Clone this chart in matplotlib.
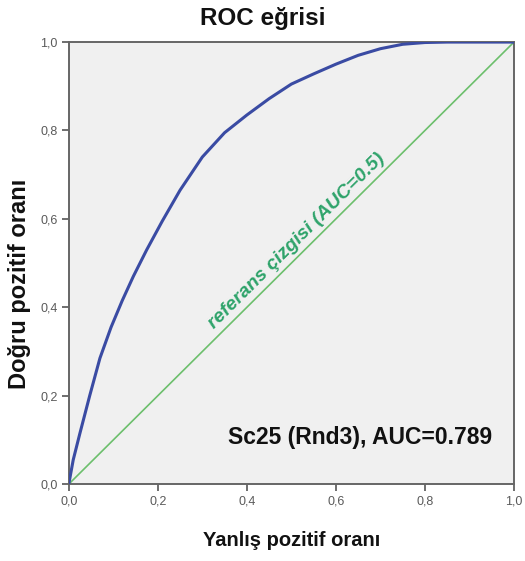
import matplotlib

matplotlib.use("Agg")
import matplotlib.pyplot as plt

# ROC curve
fpr = [0.0, 0.01, 0.025, 0.047, 0.07, 0.095, 0.12, 0.145, 0.175, 0.21,
       0.25, 0.3, 0.35, 0.4, 0.45, 0.5, 0.55, 0.6, 0.65, 0.7, 0.75, 0.8,
       0.85, 1.0]
tpr = [0.0, 0.055, 0.115, 0.2, 0.285, 0.355, 0.415, 0.47, 0.53, 0.595,
       0.665, 0.74, 0.795, 0.835, 0.872, 0.905, 0.928, 0.95, 0.97, 0.985,
       0.995, 0.999, 1.0, 1.0]
ref_x = [0.0, 1.0]
ref_y = [0.0, 1.0]
ticks = [0.0, 0.2, 0.4, 0.6, 0.8, 1.0]
tick_labels = ["0,0", "0,2", "0,4", "0,6", "0,8", "1,0"]

title = "ROC eğrisi"
x_label = "Yanlış pozitif oranı"
y_label = "Doğru pozitif oranı"
ref_label = "referans çizgisi (AUC=0.5)"
auc_label = "Sc25 (Rnd3), AUC=0.789"

plt.rcParams["font.family"] = ["Liberation Sans", "DejaVu Sans"]

fig = plt.figure(figsize=(5.25, 5.61), dpi=100)
ax = fig.add_axes([0.131, 0.137, 0.848, 0.788])
ax.set_facecolor("#f0f0f0")

ax.plot(ref_x, ref_y, color="#6cbf6c", linewidth=1.2, zorder=2)
ax.plot(fpr, tpr, color="#3a4ba3", linewidth=2.2, zorder=3)

ax.set_xlim(0, 1)
ax.set_ylim(0, 1)
ax.set_xticks(ticks, tick_labels)
ax.set_yticks(ticks, tick_labels)
ax.tick_params(direction="out", length=5, width=1.2, color="#555555",
               labelsize=9, labelcolor="#5a5a5a", pad=3)

for side in ("left", "bottom", "top", "right"):
    ax.spines[side].set_color("#666666")
    ax.spines[side].set_linewidth(1.4)

ax.text(0.525, 0.537, ref_label, rotation=44.8, rotation_mode="anchor",
        ha="center", va="bottom", color="#2ea36a", fontsize=14,
        fontweight="bold", fontstyle="italic")
ax.text(0.95, 0.106, auc_label, ha="right", va="center", color="#111111",
        fontsize=16.5, fontweight="bold")

fig.text(0.5, 0.967, title, ha="center", va="center", fontsize=17.5,
         fontweight="bold", color="#111111")
ax.set_xlabel(x_label, fontsize=14.5, fontweight="bold", color="#111111")
ax.xaxis.set_label_coords(0.5, -0.127)
ax.xaxis.label.set_va("center")
ax.set_ylabel(y_label, fontsize=17, fontweight="bold", color="#111111")
ax.yaxis.set_label_coords(-0.11, 0.452)
ax.yaxis.label.set_va("center")

fig.savefig("out.png", dpi=100, facecolor="white")
